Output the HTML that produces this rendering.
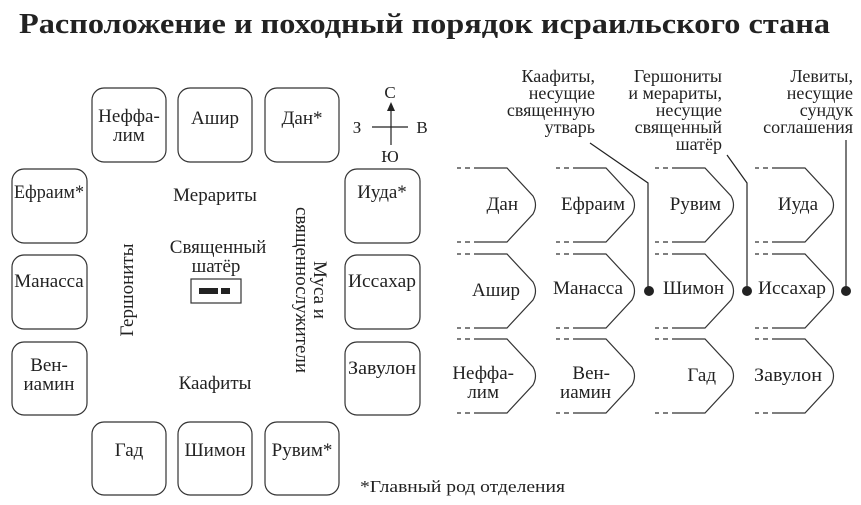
<!DOCTYPE html>
<html><head><meta charset="utf-8"><style>
html,body{margin:0;padding:0;background:#fff}
svg{display:block}
text{font-family:"Liberation Serif","DejaVu Serif",serif;fill:#222}
</style></head><body>
<svg width="861" height="505" viewBox="0 0 861 505" xmlns="http://www.w3.org/2000/svg">
<text x="19" y="33" font-size="29" font-weight="bold" textLength="811" lengthAdjust="spacingAndGlyphs">Расположение и походный порядок исраильского стана</text>

<g fill="none" stroke="#333" stroke-width="1.2">
<rect x="92" y="88" width="74" height="74" rx="12"/>
<rect x="178" y="88" width="74" height="74" rx="12"/>
<rect x="265" y="88" width="74" height="74" rx="12"/>
<rect x="12" y="169" width="75" height="74" rx="12"/>
<rect x="12" y="255" width="75" height="74" rx="12"/>
<rect x="12" y="342" width="75" height="73" rx="12"/>
<rect x="345" y="169" width="75" height="74" rx="12"/>
<rect x="345" y="255" width="75" height="74" rx="12"/>
<rect x="345" y="342" width="75" height="73" rx="12"/>
<rect x="92" y="422" width="74" height="73" rx="12"/>
<rect x="178" y="422" width="74" height="73" rx="12"/>
<rect x="265" y="422" width="74" height="73" rx="12"/>
<rect x="191" y="279" width="50" height="24"/>
</g>
<rect x="199" y="288" width="19" height="6" fill="#222"/>
<rect x="221" y="288" width="9" height="6" fill="#222"/>

<g font-size="19" text-anchor="middle">
<text x="129" y="122">Неффа-</text><text x="129" y="141">лим</text>
<text x="215" y="124">Ашир</text>
<text x="302" y="124">Дан*</text>
<text x="49" y="198" textLength="70" lengthAdjust="spacingAndGlyphs">Ефраим*</text>
<text x="49" y="287">Манасса</text>
<text x="49" y="371">Вен-</text><text x="49" y="390">иамин</text>
<text x="382" y="198">Иуда*</text>
<text x="382" y="287" textLength="68" lengthAdjust="spacingAndGlyphs">Иссахар</text>
<text x="382" y="374" textLength="68" lengthAdjust="spacingAndGlyphs">Завулон</text>
<text x="129" y="456">Гад</text>
<text x="215" y="456">Шимон</text>
<text x="302" y="456">Рувим*</text>
<text x="215" y="201">Мерариты</text>
<text x="218" y="253">Священный</text>
<text x="216" y="272">шатёр</text>
<text x="215" y="389">Каафиты</text>
<text transform="translate(133,290) rotate(-90)">Гершониты</text>
<text transform="translate(296,290) rotate(90)">священнослужители</text>
<text transform="translate(314,290) rotate(90)">Муса и</text>
</g>

<g stroke="#222" stroke-width="1.2">
<line x1="391" y1="145" x2="391" y2="110"/>
<line x1="372" y1="127" x2="408" y2="127"/>
</g>
<polygon points="391,102 387,111 395,111" fill="#222"/>
<g font-size="17" text-anchor="middle">
<text x="390" y="98">С</text>
<text x="357" y="133">З</text>
<text x="422" y="133">В</text>
<text x="390" y="162">Ю</text>
</g>

<defs>
<g id="chev" fill="none" stroke="#333" stroke-width="1.2">
<path d="M0 0 H4 M8 0 H13 M0 74 H4 M8 74 H13"/>
<path d="M17 0 H50 L76 28 Q81 37 76 46 L50 74 H17"/>
</g>
</defs>
<use href="#chev" x="457" y="168"/><use href="#chev" x="556" y="168"/><use href="#chev" x="655" y="168"/><use href="#chev" x="755" y="168"/>
<use href="#chev" x="457" y="254"/><use href="#chev" x="556" y="254"/><use href="#chev" x="655" y="254"/><use href="#chev" x="755" y="254"/>
<use href="#chev" x="457" y="339"/><use href="#chev" x="556" y="339"/><use href="#chev" x="655" y="339"/><use href="#chev" x="755" y="339"/>

<g font-size="19" text-anchor="end">
<text x="518" y="210">Дан</text>
<text x="625" y="210">Ефраим</text>
<text x="721" y="210">Рувим</text>
<text x="818" y="210">Иуда</text>
<text x="520" y="296">Ашир</text>
<text x="623" y="294" textLength="70" lengthAdjust="spacingAndGlyphs">Манасса</text>
<text x="724" y="294">Шимон</text>
<text x="826" y="294" textLength="68" lengthAdjust="spacingAndGlyphs">Иссахар</text>
<text x="514" y="379">Неффа-</text>
<text x="499" y="398">лим</text>
<text x="610" y="379">Вен-</text>
<text x="611" y="398">иамин</text>
<text x="716" y="381">Гад</text>
<text x="822" y="381" textLength="68" lengthAdjust="spacingAndGlyphs">Завулон</text>
</g>

<g stroke="#222" stroke-width="1.2" fill="none">
<polyline points="590,143 648,183 648,290"/>
<polyline points="727,155 747,183 747,290"/>
<polyline points="846,140 846,290"/>
</g>
<circle cx="649" cy="291" r="5" fill="#222"/>
<circle cx="747" cy="291" r="5" fill="#222"/>
<circle cx="846" cy="291" r="5" fill="#222"/>

<g font-size="18" text-anchor="end">
<text x="595" y="82">Каафиты,</text>
<text x="595" y="99">несущие</text>
<text x="595" y="116">священную</text>
<text x="595" y="133">утварь</text>
<text x="722" y="82">Гершониты</text>
<text x="722" y="99">и мерариты,</text>
<text x="722" y="116">несущие</text>
<text x="722" y="133">священный</text>
<text x="722" y="150">шатёр</text>
<text x="853" y="82">Левиты,</text>
<text x="853" y="99">несущие</text>
<text x="853" y="116">сундук</text>
<text x="853" y="133">соглашения</text>
</g>

<text x="360" y="492" font-size="17" textLength="205" lengthAdjust="spacingAndGlyphs">*Главный род отделения</text>
</svg>
</body></html>
